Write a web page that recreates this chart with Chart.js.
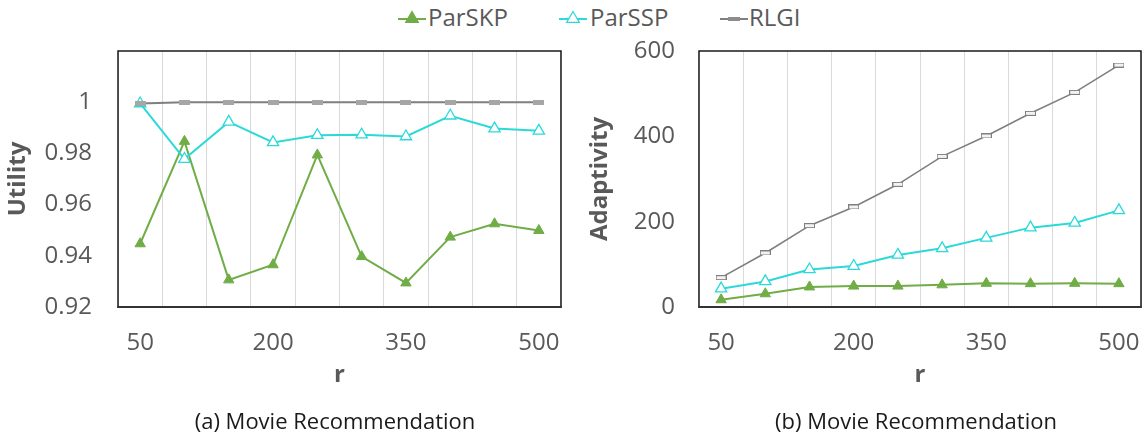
<!DOCTYPE html>
<html>
<head>
<meta charset="utf-8">
<script src="https://cdn.jsdelivr.net/npm/chart.js@4.4.0/dist/chart.umd.min.js"></script>
<style>
  html, body { margin: 0; padding: 0; background: #ffffff; overflow: hidden; }
  body { width: 1144px; height: 435px; position: relative; font-family: "Open Sans", sans-serif; }
  .abs { position: absolute; }
  .leg { position: absolute; top: 2px; font-size: 24px; line-height: 30px; color: #595959; white-space: nowrap; }
  .cap { position: absolute; top: 407px; font-size: 22px; line-height: 26px; color: #1a1a1a; white-space: nowrap; text-align: center; width: 440px; }
</style>
</head>
<body>
<canvas id="legSKP" class="abs" width="28" height="20" style="left:398px;top:8px"></canvas>
<div class="leg" style="left:428px">ParSKP</div>
<canvas id="legSSP" class="abs" width="28" height="20" style="left:559px;top:8px"></canvas>
<div class="leg" style="left:590px">ParSSP</div>
<canvas id="legRLGI" class="abs" width="28" height="20" style="left:720px;top:8px"></canvas>
<div class="leg" style="left:749px">RLGI</div>

<canvas id="c1" class="abs" width="585" height="397" style="left:0px;top:0px;width:585px;height:397px"></canvas>
<canvas id="c2" class="abs" width="585" height="397" style="left:580px;top:0px;width:585px;height:397px"></canvas>

<div class="cap" style="left:115px">(a) Movie Recommendation</div>
<div class="cap" style="left:696px">(b) Movie Recommendation</div>

<script>
// ---- data ----
const categories = ['50','100','150','200','250','300','350','400','450','500'];
const seriesNames = ['ParSKP','ParSSP','RLGI'];

const utilityParSKP = [0.9447, 0.9847, 0.9306, 0.9365, 0.9794, 0.9397, 0.9294, 0.9473, 0.9525, 0.9499];
const utilityParSSP = [0.9995, 0.9778, 0.9923, 0.9843, 0.9871, 0.9873, 0.9866, 0.9947, 0.9897, 0.9888];
const utilityRLGI   = [0.9995, 1.0, 1.0, 1.0, 1.0, 1.0, 1.0, 1.0, 1.0, 1.0];

const adaptParSKP = [17, 31, 47, 49, 49, 52, 55.5, 54.7, 55.5, 54.7];
const adaptParSSP = [43, 60, 88, 96, 122, 137.5, 162, 186, 197, 226.5];
const adaptRLGI   = [68.75, 126.6, 190.6, 234.4, 287.5, 353, 400.8, 453.9, 503, 567];

const utilityTicks = { min: 0.92, max: 1.02, step: 0.02 };
const adaptTicks = { min: 0, max: 600, step: 200 };

// ---- styles ----
const GREEN = '#70AD47';
const CYAN = '#2CD9D9';
const GREY = '#7F7F7F';
const TEXT = '#595959';
const FONT = '"Open Sans", sans-serif';

function rectMarker(fill, stroke) {
  const c = document.createElement('canvas');
  c.width = 11; c.height = 5;
  const g = c.getContext('2d');
  g.fillStyle = fill; g.fillRect(0, 0, 11, 5);
  g.strokeStyle = stroke; g.lineWidth = 1; g.strokeRect(0.5, 0.5, 10, 4);
  return c;
}

// legend markers
(function () {
  function tri(g, cx, cy, r, fill, stroke) {
    g.beginPath();
    g.moveTo(cx, cy - r);
    g.lineTo(cx + r * 0.866 * 1.05, cy + r * 0.55);
    g.lineTo(cx - r * 0.866 * 1.05, cy + r * 0.55);
    g.closePath();
    g.fillStyle = fill; g.fill();
    g.strokeStyle = stroke; g.lineWidth = 1.2; g.stroke();
  }
  let g = document.getElementById('legSKP').getContext('2d');
  g.strokeStyle = GREEN; g.lineWidth = 2; g.beginPath(); g.moveTo(0, 11); g.lineTo(28, 11); g.stroke();
  tri(g, 14, 10.5, 7, GREEN, GREEN);
  g = document.getElementById('legSSP').getContext('2d');
  g.strokeStyle = CYAN; g.lineWidth = 2; g.beginPath(); g.moveTo(0, 11); g.lineTo(28, 11); g.stroke();
  tri(g, 14, 10.5, 7, '#ffffff', CYAN);
  g = document.getElementById('legRLGI').getContext('2d');
  g.strokeStyle = GREY; g.lineWidth = 2; g.beginPath(); g.moveTo(0, 11); g.lineTo(28, 11); g.stroke();
  g.fillStyle = '#8c8c8c'; g.fillRect(8, 9, 12, 4);
})();

const borderPlugin = {
  id: 'plotBorder',
  beforeDatasetsDraw(chart) {
    const { ctx, chartArea: a } = chart;
    ctx.save();
    ctx.strokeStyle = '#1a1a1a';
    ctx.lineWidth = 1.5;
    ctx.strokeRect(a.left, a.top, a.right - a.left, a.bottom - a.top);
    ctx.strokeStyle = '#333333';
    ctx.lineWidth = 2.2;
    ctx.beginPath(); ctx.moveTo(a.left - 0.75, a.bottom); ctx.lineTo(a.right + 0.75, a.bottom); ctx.stroke();
    ctx.restore();
  }
};

function makeChart(id, opts) {
  const ds = [
    { label: seriesNames[0], data: opts.d1, borderColor: GREEN, backgroundColor: GREEN,
      pointStyle: 'triangle', pointRadius: 6, pointBorderWidth: 1, pointBackgroundColor: GREEN, pointBorderColor: GREEN,
      borderWidth: 2, tension: 0, order: 2 },
    { label: seriesNames[1], data: opts.d2, borderColor: CYAN, backgroundColor: '#ffffff',
      pointStyle: 'triangle', pointRadius: 6.5, pointBorderWidth: 1.3, pointBackgroundColor: '#ffffff', pointBorderColor: CYAN,
      borderWidth: 2, tension: 0, order: 1 },
    { label: seriesNames[2], data: opts.d3, borderColor: GREY, backgroundColor: GREY,
      pointStyle: opts.rlgiMarker, pointRadius: 5, borderWidth: opts.greyWidth, tension: 0, order: 0 }
  ];
  return new Chart(document.getElementById(id), {
    type: 'line',
    data: { labels: categories, datasets: ds },
    plugins: [borderPlugin],
    options: {
      responsive: false,
      devicePixelRatio: 1,
      animation: false,
      events: [],
      layout: { padding: { top: 51, right: opts.padRight, left: 0, bottom: 0 } },
      plugins: { legend: { display: false }, tooltip: { enabled: false }, title: { display: false } },
      scales: {
        x: {
          type: 'category',
          offset: true,
          grid: { display: true, offset: true, color: '#d9d9d9', lineWidth: 1, drawTicks: false },
          border: { display: false },
          ticks: {
            autoSkip: false, maxRotation: 0, minRotation: 0, padding: 22,
            color: TEXT, font: { family: FONT, size: 24 },
            callback: function (val, idx) { return idx % 3 === 0 ? this.getLabelForValue(val) : ''; }
          },
          title: { display: true, text: 'r', color: TEXT, font: { family: FONT, size: 24, weight: 'bold' }, padding: { top: 0, bottom: 7 } },
          afterFit(scale) { scale.height = 90; }
        },
        y: {
          min: opts.ticks.min, max: opts.ticks.max,
          grid: { display: false, drawTicks: false },
          border: { display: false },
          ticks: {
            stepSize: opts.ticks.step, padding: opts.tickPad,
            color: TEXT, font: { family: FONT, size: 24 },
            callback: opts.tickFmt
          },
          title: { display: true, text: opts.yTitle, color: TEXT, font: { family: FONT, size: 24, weight: 'bold' }, padding: { top: opts.titlePad, bottom: 0 } },
          afterFit(scale) { scale.width = opts.yWidth; }
        }
      }
    }
  });
}

makeChart('c1', {
  d1: utilityParSKP, d2: utilityParSSP, d3: utilityRLGI,
  rlgiMarker: rectMarker('#a6a6a6', '#a6a6a6'), greyWidth: 2,
  ticks: utilityTicks, yTitle: 'Utility', yWidth: 118, padRight: 24, tickPad: 26, titlePad: 3.6,
  tickFmt: (v) => Math.abs(v - 1.02) < 1e-6 ? '' : String(parseFloat(Number(v).toFixed(2)))
});
makeChart('c2', {
  d1: adaptParSKP, d2: adaptParSSP, d3: adaptRLGI,
  rlgiMarker: rectMarker('#f2f2f2', '#7f7f7f'), greyWidth: 1.6,
  ticks: adaptTicks, yTitle: 'Adaptivity', yWidth: 119, padRight: 24, tickPad: 24, titlePad: 5.6,
  tickFmt: (v) => String(Math.round(v))
});
</script>
</body>
</html>
